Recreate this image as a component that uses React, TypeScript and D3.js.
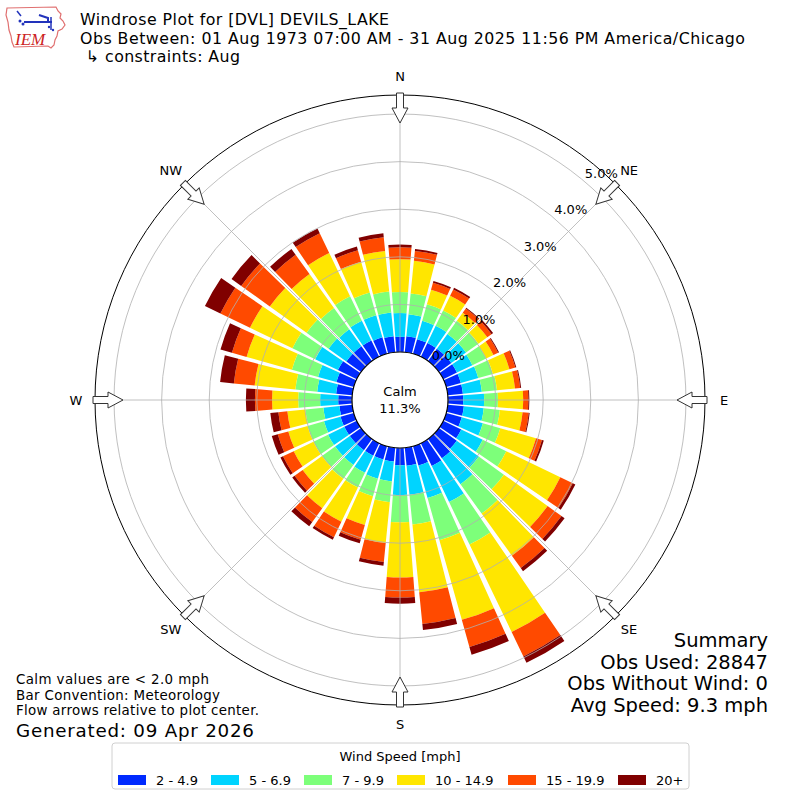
import * as d3 from "d3";

// wind directions (degrees, meteorological: direction wind blows from)
const directions = [
  0, 10, 20, 30, 40, 50, 60, 70, 80, 90, 100, 110, 120, 130, 140, 150, 160, 170,
  180, 190, 200, 210, 220, 230, 240, 250, 260, 270, 280, 290, 300, 310, 320, 330, 340, 350,
];

const speedBins = ["2 - 4.9", "5 - 6.9", "7 - 9.9", "10 - 14.9", "15 - 19.9", "20+"];
const binColors = ["#002aff", "#00d4ff", "#7dff7a", "#ffe600", "#ff4a00", "#800000"];

// frequency (%) per direction, one array per speed bin
const speed2to5 = [
  0.32, 0.34, 0.32, 0.32, 0.32, 0.32, 0.32, 0.32, 0.32, 0.32, 0.34, 0.34, 0.42, 0.46, 0.5, 0.53, 0.42, 0.38,
  0.36, 0.29, 0.29, 0.29, 0.29, 0.29, 0.29, 0.29, 0.27, 0.29, 0.34, 0.38, 0.44, 0.38, 0.38, 0.38, 0.36, 0.34,
];
const speed5to7 = [
  0.5, 0.46, 0.4, 0.4, 0.38, 0.38, 0.36, 0.38, 0.4, 0.44, 0.42, 0.46, 0.5, 0.57, 0.67, 0.84, 0.71, 0.61,
  0.63, 0.42, 0.42, 0.4, 0.38, 0.38, 0.38, 0.36, 0.34, 0.38, 0.4, 0.4, 0.53, 0.46, 0.44, 0.46, 0.48, 0.5,
];
const speed7to10 = [
  0.44, 0.44, 0.36, 0.36, 0.34, 0.32, 0.32, 0.32, 0.32, 0.29, 0.34, 0.38, 0.55, 0.65, 0.76, 0.99, 0.92, 0.63,
  0.57, 0.44, 0.38, 0.34, 0.36, 0.34, 0.34, 0.36, 0.38, 0.46, 0.46, 0.57, 0.53, 0.57, 0.55, 0.57, 0.5, 0.44,
];
const speed10to15 = [
  0.69, 0.69, 0.32, 0.34, 0.21, 0.23, 0.17, 0.36, 0.38, 0.53, 0.48, 0.78, 1.26, 1.13, 1.09, 2.04, 1.74, 1.43,
  1.16, 0.86, 0.63, 0.8, 0.76, 0.5, 0.46, 0.42, 0.38, 0.55, 0.86, 0.99, 0.99, 0.95, 0.88, 1.01, 0.67, 0.86,
];
const speed15to20 = [
  0.25, 0.21, 0.15, 0.15, 0.11, 0.11, 0.11, 0.13, 0.11, 0.11, 0.13, 0.13, 0.29, 0.36, 0.32, 0.57, 0.59, 0.67,
  0.42, 0.4, 0.32, 0.36, 0.36, 0.21, 0.25, 0.23, 0.19, 0.36, 0.44, 0.32, 0.69, 0.74, 0.5, 0.46, 0.25, 0.29,
];
const speed20plus = [
  0.06, 0.04, 0.04, 0.04, 0.02, 0.04, 0.02, 0.02, 0.02, 0.02, 0.02, 0.04, 0.06, 0.08, 0.08, 0.15, 0.17, 0.13,
  0.13, 0.08, 0.08, 0.06, 0.11, 0.06, 0.06, 0.13, 0.17, 0.19, 0.29, 0.25, 0.36, 0.25, 0.15, 0.11, 0.08, 0.08,
];

const ringTicks = [0, 1, 2, 3, 4, 5];
const compassLabels = ["N", "NE", "E", "SE", "S", "SW", "W", "NW"];
const compassAngles = [0, 45, 90, 135, 180, 225, 270, 315];
const calmPct = 11.3;

const titleLines = [
  "Windrose Plot for [DVL] DEVILS_LAKE",
  "Obs Between: 01 Aug 1973 07:00 AM - 31 Aug 2025 11:56 PM America/Chicago",
  "↳ constraints: Aug",
];
const noteLines = [
  "Calm values are < 2.0 mph",
  "Bar Convention: Meteorology",
  "Flow arrows relative to plot center.",
];
const summaryLines = ["Summary", "Obs Used: 28847", "Obs Without Wind: 0", "Avg Speed: 9.3 mph"];

// layout
const cx = 400;
const cy = 400;
const outerR = 305;
const font = "DejaVu Sans, sans-serif";
const legendItemX = [118, 211, 304, 397, 508, 618];
const titleX = [80, 80, 86];
const titleWidths = [309, 665, 154];
const noteWidths = [193, 204, 243];

const seriesValues = [speed2to5, speed5to7, speed7to10, speed10to15, speed15to20, speed20plus];

export default function App() {
  const r = d3.scaleLinear().domain([0, 5.4]).range([48, outerR]);
  const rad = (deg: number) => (deg * Math.PI) / 180;

  const rows = directions.map((dir, i) => {
    const row: Record<string, number> = { dir };
    speedBins.forEach((b, k) => (row[b] = seriesValues[k][i]));
    return row;
  });
  const stack = d3.stack<Record<string, number>>().keys(speedBins);
  const layers = stack(rows);

  const halfW = rad(4.3);
  const arc = d3.arc<any>();

  const ringLabelAngle = rad(40);

  return (
    <div style={{ position: "absolute", left: 0, top: 0 }}>
      <svg width={800} height={800} style={{ display: "block", background: "#fff" }} fontFamily={font}>
        {/* logo */}
        <g>
          <path
            d="M7,8 L56,7 L58,11 L61,14 L60,18 L63,21 L65,25 L62,29 L58,31 L57,36 L55,40 L54,45 L51,48 L48,46 L14,47 L12,42 L11,36 L9,30 L8,22 L6,15 Z"
            fill="none"
            stroke="#e07070"
            strokeWidth={1.2}
          />
          <path d="M17,11 L21,16" stroke="#2233bb" strokeWidth={1.5} />
          <circle cx={20} cy={21} r={1.5} fill="#2233bb" />
          <circle cx={23} cy={24} r={1.5} fill="#2233bb" />
          <line x1={24} y1={22} x2={52} y2={22} stroke="#2233bb" strokeWidth={2} />
          <path d="M39,15 L48,18 L48,22" fill="none" stroke="#2233bb" strokeWidth={2} />
          <line x1={51} y1={17} x2={51} y2={30} stroke="#2233bb" strokeWidth={1.5} />
          <circle cx={49} cy={27} r={1.2} fill="#2233bb" />
          <circle cx={53} cy={30} r={1.2} fill="#2233bb" />
          <text x={15} y={45} fontFamily="Liberation Serif, serif" fontStyle="italic" fontSize={17} fill="#cc2222">
            IEM
          </text>
        </g>

        {/* title */}
        {titleLines.map((t, i) => (
          <text
            key={t}
            x={titleX[i]}
            y={25 + i * 18.5}
            fontSize={15.8}
            textLength={titleWidths[i]}
            lengthAdjust="spacing"
            fill="#000"
          >
            {t}
          </text>
        ))}

        {/* bars */}
        <g transform={`translate(${cx},${cy})`}>
          {layers.map((layer, k) =>
            layer.map((d, i) => {
              const a = rad(directions[i]);
              return (
                <path
                  key={`${k}-${i}`}
                  d={
                    arc({
                      innerRadius: r(d[0]),
                      outerRadius: r(d[1]),
                      startAngle: a - halfW,
                      endAngle: a + halfW,
                    }) as string
                  }
                  fill={binColors[k]}
                />
              );
            })
          )}

          {/* grid */}
          {ringTicks.map((t) => (
            <circle key={t} r={r(t)} fill="none" stroke="#b0b0b0" strokeWidth={0.8} />
          ))}
          {compassAngles.map((deg) => {
            const a = rad(deg);
            return (
              <line
                key={deg}
                x1={r(0) * Math.sin(a)}
                y1={-r(0) * Math.cos(a)}
                x2={outerR * Math.sin(a)}
                y2={-outerR * Math.cos(a)}
                stroke="#b0b0b0"
                strokeWidth={0.8}
              />
            );
          })}
          <circle r={outerR} fill="none" stroke="#000" strokeWidth={1} />

          {/* calm circle */}
          <circle r={r(0)} fill="#fff" stroke="#000" strokeWidth={1.2} />
          <text y={-4} textAnchor="middle" fontSize={13}>
            Calm
          </text>
          <text y={13} textAnchor="middle" fontSize={13}>
            {`${calmPct.toFixed(1)}%`}
          </text>

          {/* ring labels */}
          {ringTicks.map((t) => (
            <text
              key={t}
              x={r(t) * Math.sin(ringLabelAngle) + 1}
              y={-r(t) * Math.cos(ringLabelAngle) - 3}
              fontSize={13}
            >
              {`${t.toFixed(1)}%`}
            </text>
          ))}

          {/* arrows */}
          {compassAngles.map((deg) => (
            <path
              key={deg}
              transform={`rotate(${deg})`}
              d="M-3.5,-307 L3.5,-307 L3.5,-292 L8,-292 L0,-277 L-8,-292 L-3.5,-292 Z"
              fill="#fff"
              stroke="#333"
              strokeWidth={1}
            />
          ))}

          {/* compass labels */}
          {compassLabels.map((lab, i) => {
            const a = rad(compassAngles[i]);
            return (
              <text
                key={lab}
                x={324 * Math.sin(a)}
                y={-324 * Math.cos(a)}
                textAnchor="middle"
                dominantBaseline="central"
                fontSize={13}
              >
                {lab}
              </text>
            );
          })}
        </g>

        {/* notes */}
        {noteLines.map((t, i) => (
          <text
            key={t}
            x={16}
            y={684 + i * 15.7}
            fontSize={13.4}
            textLength={noteWidths[i]}
            lengthAdjust="spacing"
          >
            {t}
          </text>
        ))}
        <text x={16} y={737} fontSize={18.3} textLength={238} lengthAdjust="spacing">
          Generated: 09 Apr 2026
        </text>

        {/* summary */}
        {summaryLines.map((t, i) => (
          <text key={t} x={768} y={647 + i * 21.7} fontSize={19.5} textAnchor="end">
            {t}
          </text>
        ))}

        {/* legend */}
        <rect x={112} y={743} width={577} height={46} rx={3} fill="#fff" stroke="#d0d0d0" />
        <text x={400} y={761} textAnchor="middle" fontSize={13}>
          Wind Speed [mph]
        </text>
        {speedBins.map((b, k) => (
          <g key={b} transform={`translate(${legendItemX[k]},775)`}>
            <rect width={28} height={10} fill={binColors[k]} />
            <text x={38} y={10} fontSize={13}>
              {b}
            </text>
          </g>
        ))}
      </svg>
    </div>
  );
}
